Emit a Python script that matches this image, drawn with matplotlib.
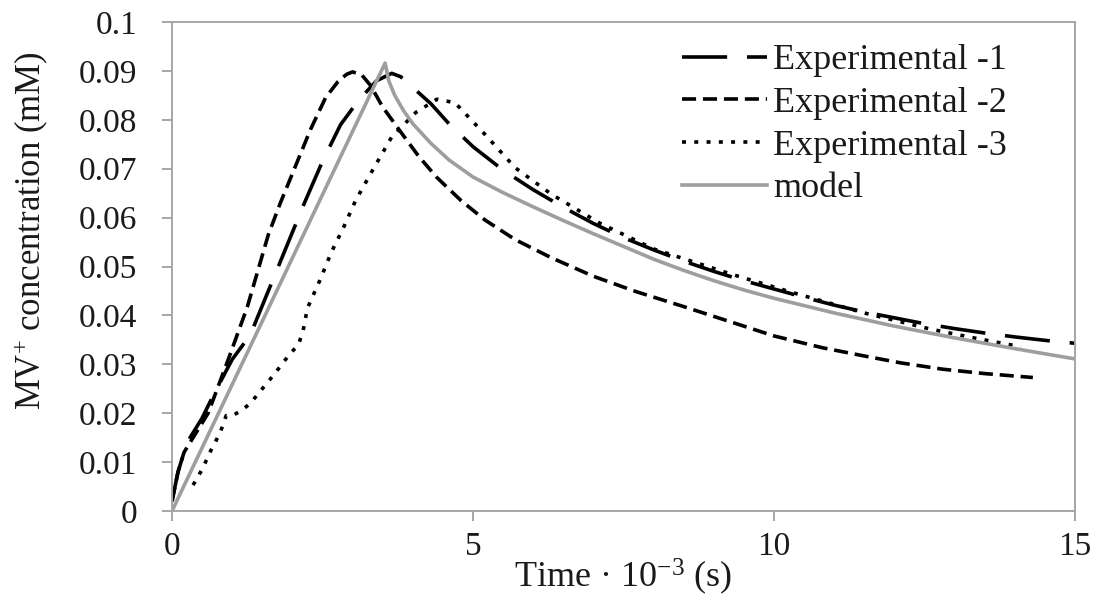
import matplotlib
matplotlib.use("Agg")
import matplotlib.pyplot as plt

plt.rcParams['font.family'] = ['Liberation Serif', 'DejaVu Serif']
plt.rcParams['mathtext.fontset'] = 'custom'
plt.rcParams['mathtext.rm'] = 'Liberation Serif'
plt.rcParams['mathtext.it'] = 'Liberation Serif:italic'

# Experimental -1 (long dash)
t1 = [0, 0.1, 0.2, 0.3, 0.5, 0.7, 1.0, 1.3, 1.6, 1.9, 2.2, 2.5, 2.8, 3.1, 3.4,
      3.65, 3.8, 4.0, 4.3, 4.6, 5.0, 5.5, 6.0, 6.5, 7.0, 7.5, 8.0, 8.5, 9.0,
      9.5, 10.0, 10.5, 11.0, 11.5, 12.0, 12.5, 13.0, 13.5, 14.0, 14.5, 15.0]
c1 = [0.002, 0.008, 0.012, 0.015, 0.019, 0.024, 0.031, 0.036, 0.045, 0.054,
      0.063, 0.0715, 0.079, 0.084, 0.088, 0.0895, 0.0888, 0.0866, 0.0833,
      0.0792, 0.0745, 0.0697, 0.0657, 0.0621, 0.0588, 0.0559, 0.0534, 0.0511,
      0.049, 0.0471, 0.0454, 0.0437, 0.0421, 0.0407, 0.0395, 0.0383, 0.0373,
      0.0364, 0.0356, 0.0349, 0.0343]

# Experimental -2 (short dash)
t2 = [0, 0.1, 0.2, 0.35, 0.6, 0.95, 1.25, 1.6, 1.8, 2.0, 2.3, 2.55, 2.75, 2.9,
      3.0, 3.15, 3.3, 3.5, 3.8, 4.1, 4.4, 4.8, 5.2, 5.7, 6.3, 7.0, 7.7, 8.5,
      9.2, 10.0, 10.8, 11.5, 12.1, 12.8, 13.5, 14.3]
c2 = [0.002, 0.008, 0.012, 0.015, 0.020, 0.0315, 0.0417, 0.0565, 0.063, 0.069,
      0.078, 0.0845, 0.0877, 0.0893, 0.0898, 0.0892, 0.087, 0.0826, 0.0775,
      0.0725, 0.0682, 0.0635, 0.0595, 0.0555, 0.0518, 0.048, 0.0449, 0.0418,
      0.039, 0.0358, 0.0334, 0.0317, 0.0303, 0.029, 0.0281, 0.0273]

# Experimental -3 (dotted)
t3 = [0.35, 0.5, 0.65, 0.8, 0.9, 1.0, 1.15, 1.3, 1.5, 1.7, 1.95, 2.1, 2.18,
      2.25, 2.45, 2.65, 2.85, 3.05, 3.3, 3.65, 4.05, 4.4, 4.7, 5.2, 5.7, 6.3,
      7.1, 8.0, 9.3, 10.3, 11.5, 12.6, 13.4, 14.1]
c3 = [0.0053, 0.0085, 0.0125, 0.016, 0.0195, 0.0195, 0.0205, 0.022, 0.025,
      0.028, 0.032, 0.034, 0.037, 0.0415, 0.047, 0.053, 0.058, 0.0635, 0.069,
      0.0765, 0.0815, 0.0842, 0.0835, 0.077, 0.0702, 0.0648, 0.0589, 0.0536,
      0.0484, 0.0447, 0.0405, 0.0372, 0.0352, 0.0336]

# model
tm = [0, 3.54, 3.6, 3.7, 3.85, 4.0, 4.3, 4.6, 5.0, 5.5, 6.0, 6.5, 7.0, 7.5,
      8.0, 8.5, 9.0, 9.5, 10.0, 11.0, 12.0, 13.0, 14.0, 15.0]
cm = [0, 0.0916, 0.0880, 0.0850, 0.0818, 0.0792, 0.0752, 0.0718, 0.0683,
      0.0651, 0.0622, 0.0594, 0.0567, 0.0541, 0.0515, 0.0492, 0.0471, 0.0452,
      0.0435, 0.0405, 0.0378, 0.0354, 0.0332, 0.0311]

xticks = [0, 5, 10, 15]
yticks = [0, 0.01, 0.02, 0.03, 0.04, 0.05, 0.06, 0.07, 0.08, 0.09, 0.1]
ylabels = ['0', '0.01', '0.02', '0.03', '0.04', '0.05', '0.06', '0.07',
           '0.08', '0.09', '0.1']

W, H = 1097, 599
fig = plt.figure(figsize=(W / 100, H / 100), dpi=100)
ax = fig.add_axes([172 / W, 1 - 511 / H, (1075 - 172) / W, (511 - 22) / H])

lw = 2.6
ax.plot(t1, c1, color='black', lw=lw, dashes=(12.5, 5.5), label='Experimental -1')
ax.plot(t2, c2, color='black', lw=lw, dashes=(3.9, 1.9), label='Experimental -2')
ax.plot(t3, c3, color='black', lw=lw, dashes=(1.1, 2.3), label='Experimental -3')
ax.plot(tm, cm, color='#9e9e9e', lw=2.6, label='model')

ax.set_xlim(0, 15)
ax.set_ylim(0, 0.1)
ax.set_xticks(xticks)
ax.set_xticklabels([str(v) for v in xticks])
ax.set_yticks(yticks)
ax.set_yticklabels(ylabels)

spine_c = '#a6a6a6'
for s in ax.spines.values():
    s.set_color(spine_c)
    s.set_linewidth(1.4)
ax.tick_params(axis='both', direction='out', length=7, width=1.4,
               color=spine_c, labelsize=24, labelcolor='#1a1a1a')
ax.tick_params(axis='y', pad=18)
ax.tick_params(axis='x', pad=8)

ax.set_xlabel('Time · 10$^{-3}$ (s)', fontsize=26, color='#1a1a1a')
ax.xaxis.set_label_coords(0.5, -0.135)
ax.xaxis.label.set_va('center')
ax.set_ylabel('MV$^{+}$ concentration (mM)', fontsize=25, color='#1a1a1a')
ax.yaxis.set_label_coords(-0.157, 0.573)
ax.yaxis.label.set_va('center')

leg = ax.legend(loc='upper left', bbox_to_anchor=(682 / W, 1 - 44 / H),
                bbox_transform=fig.transFigure, frameon=False, fontsize=26,
                handlelength=2.35, handletextpad=0.17, labelspacing=0.26,
                borderpad=0, borderaxespad=0)
for t in leg.get_texts():
    t.set_color('#1a1a1a')

fig.savefig('out.png', dpi=100)
